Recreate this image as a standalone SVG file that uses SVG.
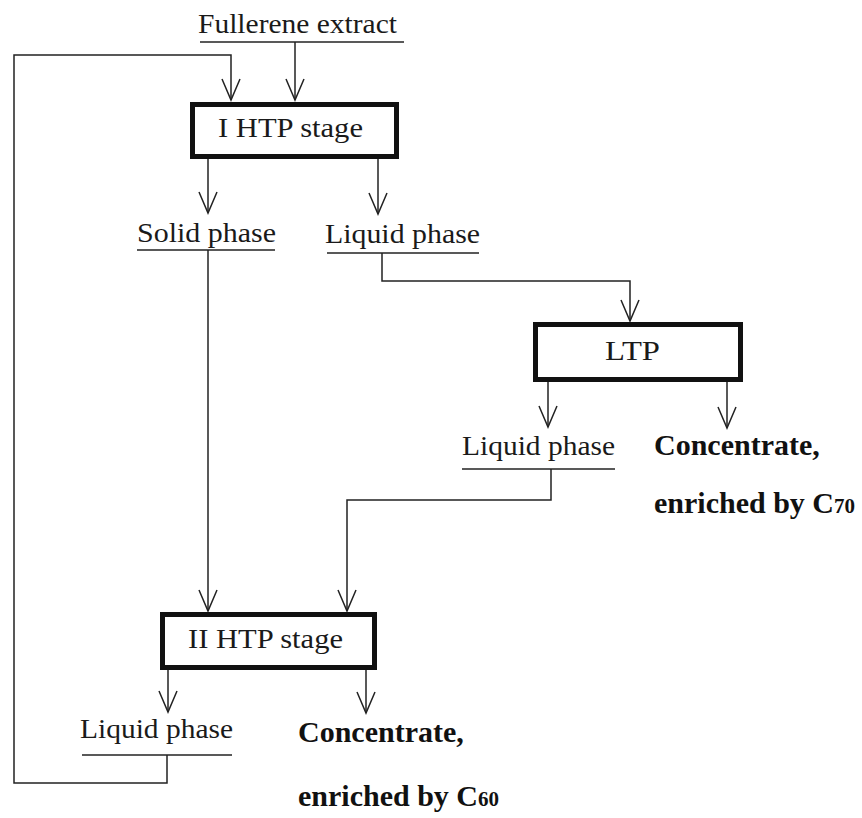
<svg xmlns="http://www.w3.org/2000/svg" width="862" height="818" viewBox="0 0 862 818">
<style>
.t{font-family:"Liberation Serif","Times New Roman",serif;font-size:28px;fill:#1a1a1a}
.b{font-family:"Liberation Serif","Times New Roman",serif;font-size:30px;font-weight:bold;fill:#111}
.box{fill:#fff;stroke:#111;stroke-width:5}
.ln{fill:none;stroke:#222;stroke-width:1.5}
.ar{fill:none;stroke:#222;stroke-width:1.5;marker-end:url(#v)}
</style>
<defs>
<marker id="v" markerUnits="userSpaceOnUse" viewBox="-23 -11 25 22" refX="0" refY="0" markerWidth="25" markerHeight="22" orient="auto" overflow="visible">
<path d="M-21,-9 L0,0 L-21,9" fill="none" stroke="#222" stroke-width="1.5"/>
</marker>
</defs>
<rect width="862" height="818" fill="#fff"/>
<g id="connectors">
<path class="ar" d="M295,42 V100"/>
<path class="ar" d="M167,755 V783 H14 V55 H231 V100"/>
<path class="ar" d="M208,159 V213"/>
<path class="ar" d="M378,159 V214"/>
<path class="ar" d="M208,250 V611"/>
<path class="ar" d="M382,253 V281 H630 V321"/>
<path class="ar" d="M548,382 V427"/>
<path class="ar" d="M727,382 V428"/>
<path class="ar" d="M551,469 V500 H347 V611"/>
<path class="ar" d="M168,670 V712"/>
<path class="ar" d="M366,670 V713"/>
</g>
<g id="fullerene">
<text class="t" x="198" y="33" textLength="199" lengthAdjust="spacingAndGlyphs">Fullerene extract</text>
<path class="ln" d="M200,42 H404"/>
</g>
<g id="htp1">
<rect class="box" x="192.5" y="104.5" width="204" height="52"/>
<text class="t" x="218" y="137" textLength="145" lengthAdjust="spacingAndGlyphs">I HTP stage</text>
</g>
<g id="solid">
<text class="t" x="137" y="242" textLength="139" lengthAdjust="spacingAndGlyphs">Solid phase</text>
<path class="ln" d="M137,250 H275"/>
</g>
<g id="liquid1">
<text class="t" x="325" y="243" textLength="155" lengthAdjust="spacingAndGlyphs">Liquid phase</text>
<path class="ln" d="M327,253 H479"/>
</g>
<g id="ltp">
<rect class="box" x="535.5" y="324.5" width="205" height="55"/>
<text class="t" x="605" y="360" textLength="55" lengthAdjust="spacingAndGlyphs">LTP</text>
</g>
<g id="liquid2">
<text class="t" x="462" y="455" textLength="153" lengthAdjust="spacingAndGlyphs">Liquid phase</text>
<path class="ln" d="M462,469 H615"/>
</g>
<g id="c70">
<text class="b" x="654" y="455">Concentrate,</text>
<text class="b" x="654" y="513">enriched by C<tspan font-size="21">70</tspan></text>
</g>
<g id="htp2">
<rect class="box" x="162.5" y="614.5" width="212" height="53"/>
<text class="t" x="188" y="648" textLength="155" lengthAdjust="spacingAndGlyphs">II HTP stage</text>
</g>
<g id="liquid3">
<text class="t" x="80" y="738" textLength="153" lengthAdjust="spacingAndGlyphs">Liquid phase</text>
<path class="ln" d="M82,755 H232"/>
</g>
<g id="c60">
<text class="b" x="298" y="742">Concentrate,</text>
<text class="b" x="298" y="806">enriched by C<tspan font-size="21">60</tspan></text>
</g>
</svg>
